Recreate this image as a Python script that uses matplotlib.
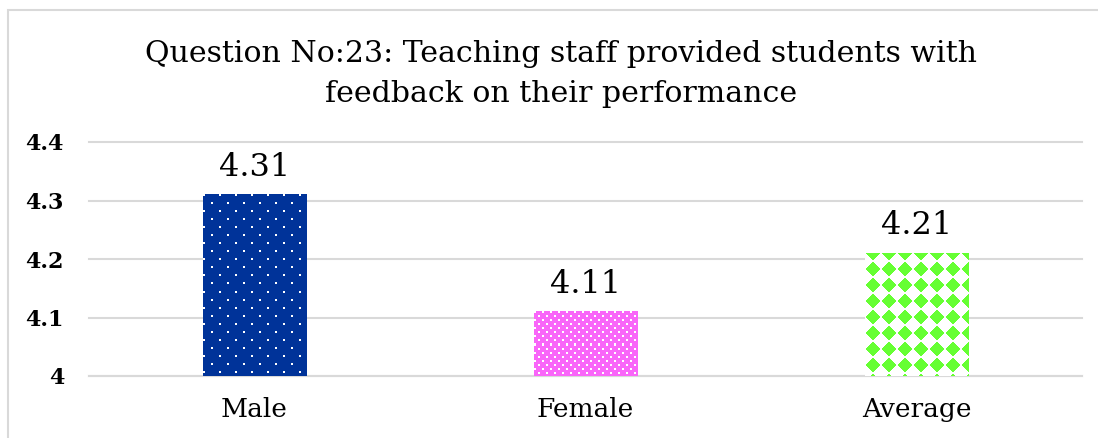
import numpy as np
import matplotlib.pyplot as plt
from matplotlib.patches import Rectangle

categories = ['Male', 'Female', 'Average']
scores = [4.31, 4.11, 4.21]
score_labels = ['4.31', '4.11', '4.21']
y_ticks = [4.0, 4.1, 4.2, 4.3, 4.4]
y_tick_labels = ['4', '4.1', '4.2', '4.3', '4.4']
title_lines = ['Question No:23: Teaching staff provided students with',
               'feedback on their performance']

W, H = 1098, 438
serif = ['DejaVu Serif']


def hex_rgb(h):
    h = h.lstrip('#')
    return np.array([int(h[i:i + 2], 16) for i in (0, 2, 4)]) / 255.0


def dot_pattern(h, w, bg, fg, dx, dy, stagger):
    img = np.empty((h, w, 3))
    img[:] = hex_rgb(bg)
    yy, xx = np.mgrid[0:h, 0:w]
    row = yy // dy
    shift = np.where(row % 2 == 1, stagger, 0)
    mask = ((yy % dy) < 2) & (((xx + shift) % dx) < 2)
    img[mask] = hex_rgb(fg)
    return img


def diamond_pattern(h, w, bg, fg, period, r):
    img = np.empty((h, w, 3))
    img[:] = hex_rgb(bg)
    yy, xx = np.mgrid[0:h, 0:w]
    cx = (xx % period) - period / 2 + 0.5
    cy = ((yy + period // 2) % period) - period / 2 + 0.5
    mask = (np.abs(cx) + np.abs(cy)) <= r
    img[mask] = hex_rgb(fg)
    return img


fig = plt.figure(figsize=(W / 100, H / 100), dpi=100)
ax = fig.add_axes([89 / W, 62 / H, (1082 - 89) / W, (376 - 142) / H])

# chart border (cut off at right/bottom like the original)
fig.patches.append(Rectangle((8 / W, -0.1), 1.2, (438 - 10) / H + 0.1,
                             transform=fig.transFigure, fill=False,
                             edgecolor='#D9D9D9', linewidth=1.5))

x = np.arange(len(categories))
bars = ax.bar(x, [s - 4 for s in scores], bottom=4, width=0.313,
              color='none', edgecolor='none', zorder=3)

ax.set_xlim(-0.5, 2.5)
ax.set_ylim(4, 4.4)

patterns = [
    lambda h, w: dot_pattern(h, w, '#003399', '#FFFFFF', 16, 8, 8),
    lambda h, w: dot_pattern(h, w, '#F966F9', '#FFFFFF', 8, 4, 4),
    lambda h, w: diamond_pattern(h, w, '#FFFFFF', '#66FF33', 16, 7),
]

for bar, make in zip(bars, patterns):
    x0, y0 = bar.get_x(), bar.get_y()
    x1, y1 = x0 + bar.get_width(), y0 + bar.get_height()
    p0 = ax.transData.transform((x0, y0))
    p1 = ax.transData.transform((x1, y1))
    w = int(round(p1[0] - p0[0]))
    h = int(round(p1[1] - p0[1]))
    ax.imshow(make(h, w), extent=(x0, x1, y0, y1), origin='upper',
              interpolation='nearest', aspect='auto', zorder=3)

for bar, lab in zip(bars, score_labels):
    ax.annotate(lab, (bar.get_x() + bar.get_width() / 2, bar.get_y() + bar.get_height()),
                xytext=(0, 13.5), textcoords='offset points', ha='center', va='baseline',
                fontsize=23, family=serif, color='black')

ax.set_yticks(y_ticks)
ax.set_yticklabels(y_tick_labels, family=serif, fontsize=16, fontweight='bold')
ax.set_xticks(x)
ax.set_xticklabels(categories, family=serif, fontsize=19)
ax.tick_params(axis='y', length=0, pad=18)
ax.tick_params(axis='x', length=0, pad=15.4)
ax.grid(axis='y', color='#D9D9D9', linewidth=1.5, zorder=0)
for gl in ax.get_ygridlines():
    gl.set_clip_on(False)
ax.set_axisbelow(True)
for s in ['top', 'right', 'left']:
    ax.spines[s].set_visible(False)
ax.spines['bottom'].set_color('#D9D9D9')
ax.spines['bottom'].set_linewidth(1.5)

fig.text(561 / W, 1 - 62 / H, title_lines[0], ha='center', va='baseline',
         fontsize=21.6, family=serif)
fig.text(561 / W, 1 - 102 / H, title_lines[1], ha='center', va='baseline',
         fontsize=21.6, family=serif)

fig.savefig('out.png', dpi=100)
